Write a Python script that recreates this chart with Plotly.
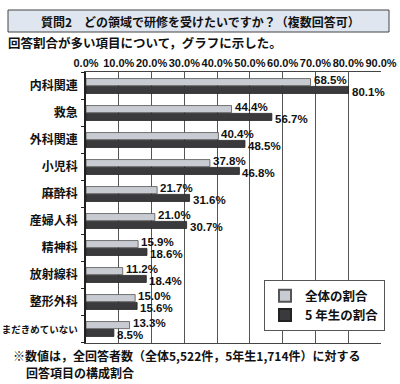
import plotly.graph_objects as go

categories = ["内科関連", "救急", "外科関連", "小児科", "麻酔科", "産婦人科",
              "精神科", "放射線科", "整形外科", "まだきめていない"]
overall = [68.5, 44.4, 40.4, 37.8, 21.7, 21.0, 15.9, 11.2, 15.0, 13.3]
fifth_year = [80.1, 56.7, 48.5, 46.8, 31.6, 30.7, 18.6, 18.4, 15.6, 8.5]
tick_vals = [0, 10, 20, 30, 40, 50, 60, 70, 80, 90]
tick_text = ["0.0%", "10.0%", "20.0%", "30.0%", "40.0%", "50.0%",
             "60.0%", "70.0%", "80.0%", "90.0%"]

W, H = 400, 384
L, R, T, B = 86, 19, 72, 41
PW, PH = W - L - R, H - T - B

def px(x):
    return (x - L) / PW

def py(y):
    return (H - B - y) / PH

FONT = "Noto Sans CJK JP"
NUMFONT = "Liberation Sans Narrow, Liberation Sans, Noto Sans CJK JP"
bold = dict(family=FONT, weight="bold", color="#111")
numbold = dict(family=NUMFONT, weight="bold", color="#111")

cat_text = [c if len(c) <= 4 else f'<span style="font-size:9.5px">{c}</span>'
            for c in categories]

fig = go.Figure()
fig.add_trace(go.Bar(
    y=categories, x=overall, orientation="h", name="全体の割合",
    marker=dict(color="#c8cbd1", line=dict(color="#555", width=0.8)),
))
fig.add_trace(go.Bar(
    y=categories, x=fifth_year, orientation="h", name="5 年生の割合",
    marker=dict(color="#3a3a3c", line=dict(color="#222", width=0.8)),
))

# value labels, offset to sit by each bar of the group
for cat, v in zip(categories, overall):
    fig.add_annotation(x=v, y=cat, text=f"{v:.1f}%", showarrow=False,
                       xanchor="left", yanchor="middle", xshift=1, yshift=6,
                       font=dict(size=11.5, **numbold))
for cat, v in zip(categories, fifth_year):
    fig.add_annotation(x=v, y=cat, text=f"{v:.1f}%", showarrow=False,
                       xanchor="left", yanchor="middle", xshift=1, yshift=-6,
                       font=dict(size=11.5, **numbold))

# Title box
fig.add_shape(type="rect", xref="paper", yref="paper",
              x0=px(8), x1=px(389), y0=py(10), y1=py(32),
              fillcolor="#dfe6ef", line=dict(color="#444", width=1), layer="below")
fig.add_annotation(xref="paper", yref="paper", x=px(200), y=py(21),
                   text="質問2　どの領域で研修を受けたいですか？（複数回答可）",
                   showarrow=False, font=dict(size=12, **bold),
                   xanchor="center", yanchor="middle")
fig.add_annotation(xref="paper", yref="paper", x=px(6), y=py(43),
                   text="回答割合が多い項目について，グラフに示した。",
                   showarrow=False, font=dict(size=12.5, **bold),
                   xanchor="left", yanchor="middle")
fig.add_annotation(xref="paper", yref="paper", x=px(11), y=py(355),
                   text="※数値は，全回答者数（全体5,522件，5年生1,714件）に対する",
                   showarrow=False, font=dict(size=12, **bold),
                   xanchor="left", yanchor="middle")
fig.add_annotation(xref="paper", yref="paper", x=px(24), y=py(372),
                   text="回答項目の構成割合",
                   showarrow=False, font=dict(size=12, **bold),
                   xanchor="left", yanchor="middle")

fig.update_layout(
    width=W, height=H,
    margin=dict(l=L, r=R, t=T, b=B, pad=0, autoexpand=False),
    paper_bgcolor="white", plot_bgcolor="white",
    barmode="group", bargap=0.42, bargroupgap=0.1,
    font=dict(family=FONT, size=12, color="#111"),
    showlegend=True,
    legend=dict(x=px(264), y=py(280), xanchor="left", yanchor="top",
                bgcolor="white", bordercolor="#555", borderwidth=1,
                font=dict(size=12.5, **bold), tracegroupgap=2,
                itemsizing="constant"),
    xaxis=dict(range=[0, 90], side="top", tickvals=tick_vals, ticktext=tick_text,
               tickangle=0, automargin=False,
               showgrid=True, gridcolor="#555", gridwidth=1,
               showline=True, linecolor="#444", mirror=True, ticks="",
               tickfont=dict(size=11, **numbold), zeroline=False, fixedrange=True),
    yaxis=dict(categoryorder="array", categoryarray=categories, autorange="reversed",
               tickvals=categories, ticktext=cat_text, automargin=False,
               showline=True, linecolor="#222", linewidth=1.5, mirror=False,
               ticks="outside", tickson="boundaries", ticklen=3, tickcolor="#222",
               tickfont=dict(size=12, **bold), ticklabelstandoff=4, fixedrange=True),
)

fig.write_html("out.html", config={"displayModeBar": False},
               post_script="document.body.style.margin='0';document.body.style.padding='0';")
